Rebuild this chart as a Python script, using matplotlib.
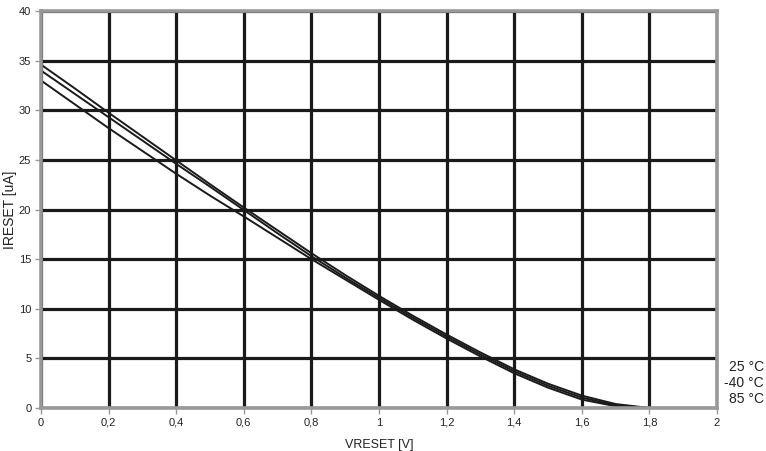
import matplotlib
matplotlib.use("Agg")
import matplotlib.pyplot as plt
from matplotlib.ticker import FixedLocator, FuncFormatter

plt.rcParams['font.family'] = ['Liberation Sans', 'DejaVu Sans']

vreset = [0.0, 0.1, 0.2, 0.3, 0.4, 0.5, 0.6, 0.7, 0.8, 0.9, 1.0, 1.1, 1.2, 1.3, 1.4, 1.5, 1.6, 1.7, 1.8]
i_25 = [34.6, 32.2, 29.75, 27.35, 24.95, 22.55, 20.2, 17.9, 15.6, 13.4, 11.3, 9.3, 7.4, 5.6, 3.9, 2.45, 1.25, 0.4, 0.0]
i_m40 = [34.0, 31.65, 29.3, 26.95, 24.6, 22.3, 19.95, 17.6, 15.3, 13.15, 11.1, 9.1, 7.2, 5.4, 3.7, 2.25, 1.05, 0.28, 0.0]
i_85 = [33.0, 30.6, 28.2, 25.9, 23.6, 21.4, 19.3, 17.15, 15.0, 12.95, 10.9, 8.9, 7.0, 5.2, 3.5, 2.05, 0.85, 0.18, 0.0]
labels = ["25 °C", "-40 °C", "85 °C"]
xticks = [0, 0.2, 0.4, 0.6, 0.8, 1.0, 1.2, 1.4, 1.6, 1.8, 2.0]
yticks = [0, 5, 10, 15, 20, 25, 30, 35, 40]

fig = plt.figure(figsize=(7.66, 4.51), dpi=100)
ax = fig.add_axes([41/766, 1 - 408/451, 676/766, 397/451])

ax.set_xlim(0, 2)
ax.set_ylim(0, 40)
ax.xaxis.set_major_locator(FixedLocator(xticks))
ax.yaxis.set_major_locator(FixedLocator(yticks))
fmt = FuncFormatter(lambda v, p: ('%g' % v).replace('.', ','))
ax.xaxis.set_major_formatter(fmt)
ax.yaxis.set_major_formatter(FuncFormatter(lambda v, p: '%d' % v))

ax.grid(True, color='#1a1a1a', linewidth=2.3, zorder=1)
ax.set_axisbelow(True)
for s in ax.spines.values():
    s.set_color('#999999')
    s.set_linewidth(2.6)
    s.set_zorder(3)

ax.tick_params(axis='both', colors='#999999', length=4, width=1, labelsize=8, labelcolor='#222222', pad=3)

for ys in (i_25, i_m40, i_85):
    ax.plot(vreset, ys, color='#1a1a1a', linewidth=1.4, zorder=2)

ax.set_xlabel("VRESET [V]", fontsize=9, color='#222222', labelpad=8)
ax.set_ylabel("IRESET [uA]", fontsize=10, color='#222222')
ax.yaxis.set_label_coords((17 - 41) / 676, 0.5)

for lab, ypx in zip(labels, [367, 383, 399]):
    fig.text(764/766, 1 - ypx/451, lab, ha='right', va='center', fontsize=10, color='#222222')

fig.savefig("out.png", dpi=100)
